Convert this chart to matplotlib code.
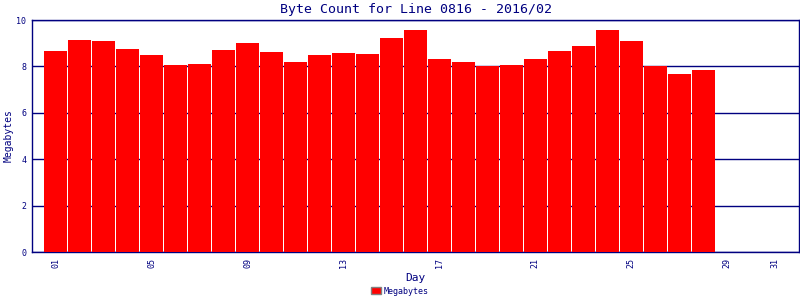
import numpy as np
import matplotlib.pyplot as plt
from matplotlib.patches import Patch

# dados
dias = np.arange(1, 29)
mbytes = [8.66, 9.14, 9.09, 8.75, 8.49, 8.06, 8.10, 8.71, 9.01, 8.62,
          8.19, 8.49, 8.58, 8.53, 9.22, 9.57, 8.32, 8.19, 8.02, 8.06,
          8.32, 8.66, 8.88, 9.57, 9.09, 8.02, 7.67, 7.84]
xticks = [1, 5, 9, 13, 17, 21, 25, 29, 31]
yticks = [0, 2, 4, 6, 8, 10]

navy = '#000080'
plt.rcParams['font.family'] = 'DejaVu Sans Mono'

fig = plt.figure(figsize=(8, 3), dpi=100)
ax = fig.add_axes([0.04, 0.16, 0.9588, 0.7733])

ax.bar(dias, mbytes, width=0.96, color='#ff0000', zorder=3)

ax.set_xlim(0, 32)
ax.set_ylim(0, 10)
ax.set_yticks(yticks)
ax.set_yticklabels([str(v) for v in yticks], fontsize=6, color=navy)
ax.set_xticks(xticks)
ax.set_xticklabels(['%02d' % d for d in xticks], fontsize=6, color=navy, rotation=90)
ax.tick_params(axis='x', length=0, pad=4)
ax.tick_params(axis='y', length=0, pad=4)
ax.grid(axis='y', color=navy, lw=1, zorder=1)
for s in ax.spines.values():
    s.set_color(navy)
    s.set_linewidth(1)

ax.set_title('Byte Count for Line 0816 - 2016/02', fontsize=9.5, color=navy, pad=5)
ax.set_xlabel('Day', fontsize=8, color=navy, labelpad=4)
ax.set_ylabel('Megabytes', fontsize=7, color=navy, labelpad=2)

leg = fig.legend(handles=[Patch(facecolor='#ff0000', edgecolor='#808080', label='Megabytes')],
                 loc='lower center', bbox_to_anchor=(0.5, -0.01), frameon=False,
                 fontsize=6, handlelength=1.2, handleheight=0.9, handletextpad=0.3)
for t in leg.get_texts():
    t.set_color(navy)

fig.savefig('out.png', dpi=100)
